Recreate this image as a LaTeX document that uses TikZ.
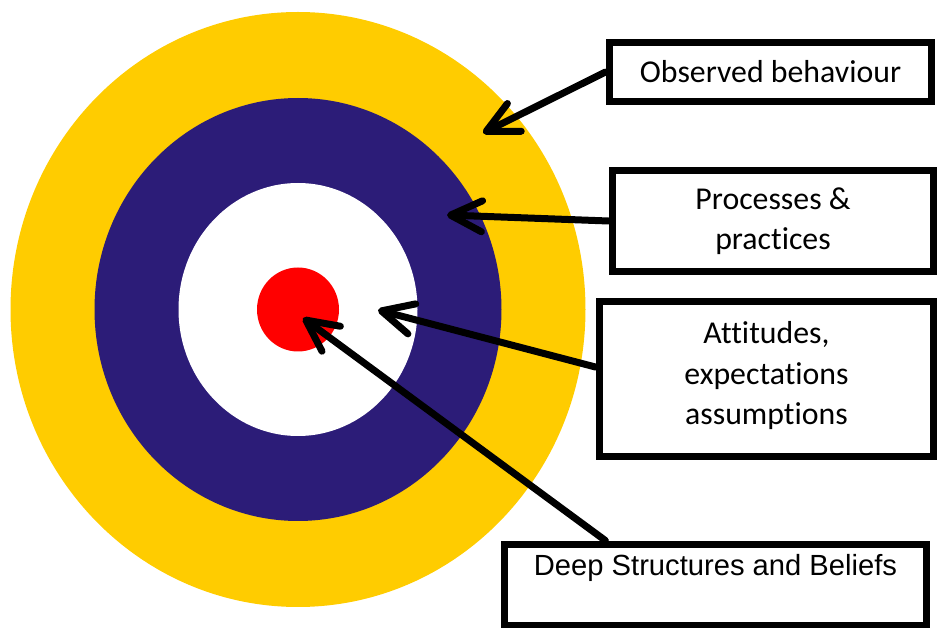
\documentclass[tikz,border=0pt]{standalone}
\usepackage{fontspec}
\setmainfont{Carlito}[Ligatures=NoCommon]
\newfontfamily\arialfont{Liberation Sans}
\usetikzlibrary{arrows.meta}

\definecolor{ringyellow}{RGB}{255,204,0}
\definecolor{ringnavy}{RGB}{44,28,120}
\definecolor{ringred}{RGB}{255,0,0}

\begin{document}
\begin{tikzpicture}[x=0.02cm, y=-0.02cm,
    labelbox/.style={draw, line width=0.14cm, fill=white, align=center, inner sep=0pt,
        font=\fontsize{18.1}{22.8}\selectfont},
    pointer/.style={line width=0.14cm, line cap=round,
        -{Straight Barb[length=0.63cm, width=0.62cm, round]}}]

\useasboundingbox (0,0) rectangle (938,628);

% --- Target rings (outer to inner) ---
\foreach \rx/\ry/\col in {287.5/297.5/ringyellow, 203.5/211.5/ringnavy, 119.5/126.5/white, 41/42/ringred} {
    \fill[\col] (298,309.5) ellipse [x radius=\rx, y radius=\ry];
}

% --- Label boxes ---
\node[labelbox, minimum width=6.46cm, minimum height=1.2cm] (behaviour) at (770.5,72) {Observed behaviour};
\node[labelbox, minimum width=6.44cm, minimum height=2.04cm] (process) at (773,221) {Processes \&\\practices};
\node[labelbox, minimum width=6.7cm, minimum height=3.12cm, text depth=0.24cm] (attitude) at (766.5,379) {Attitudes,\\expectations\\assumptions};
\node[labelbox, minimum width=8.46cm, text height=0.63cm, text depth=1.01cm,
    font=\arialfont\fontsize{16.6}{20}\selectfont] (belief) at (715.5,585) {Deep Structures and Beliefs};

% --- Arrow tips on the rings ---
\coordinate (tipbehaviour) at (483,133);
\coordinate (tipprocess) at (447,215);
\coordinate (tipattitude) at (378,310);
\coordinate (tipbelief) at (303,318);

\draw[pointer] (behaviour.west) -- (tipbehaviour);
\draw[pointer] (process.west) -- (tipprocess);
\draw[pointer] (attitude.176) -- (tipattitude);
\draw[pointer] (belief.158) -- (tipbelief);

\end{tikzpicture}
\end{document}
